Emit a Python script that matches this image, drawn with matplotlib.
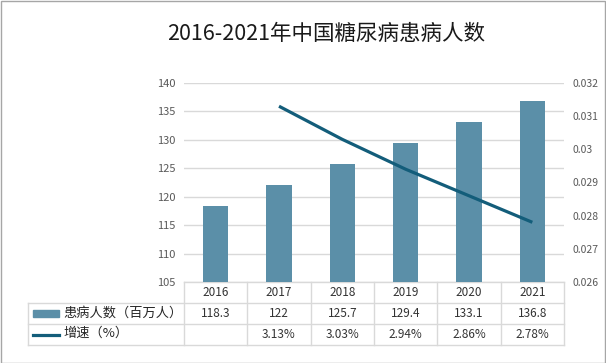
import numpy as np
import matplotlib.pyplot as plt
from matplotlib.patches import Rectangle
from matplotlib.lines import Line2D

plt.rcParams['font.family'] = ['Noto Sans CJK SC', 'DejaVu Sans']

years = ['2016', '2017', '2018', '2019', '2020', '2021']
patients = [118.3, 122, 125.7, 129.4, 133.1, 136.8]
growth = [None, 3.13, 3.03, 2.94, 2.86, 2.78]
title = '2016-2021年中国糖尿病患病人数'
bar_label = '患病人数（百万人）'
line_label = '增速（%）'

bar_color = '#5b8fa8'
line_color = '#135d7a'
grid_color = '#d9d9d9'
tick_color = '#595959'
text_color = '#333333'

W, H = 606, 363
fig = plt.figure(figsize=(W / 100, H / 100), dpi=100)

# axes box in pixels: x 184..564, y 83..282 (from top)
L, R, T, B = 184, 564, 83, 282
ax = fig.add_axes([L / W, 1 - B / H, (R - L) / W, (B - T) / H])
ax2 = ax.twinx()

x = np.arange(len(years))
ax.bar(x, patients, width=0.4, color=bar_color, zorder=3)
ax.set_xlim(-0.5, len(years) - 0.5)
ax.set_ylim(105, 140)
ax.set_yticks(np.arange(105, 141, 5))
ax.yaxis.grid(True, color=grid_color, linewidth=1)
ax.set_axisbelow(True)
ax.set_xticks([])
for s in ax.spines.values():
    s.set_visible(False)
ax.tick_params(axis='y', length=0, pad=6, labelsize=8, labelcolor=tick_color)

gx = [i for i, g in enumerate(growth) if g is not None]
gy = [growth[i] / 100 for i in gx]
ax2.plot(gx, gy, color=line_color, linewidth=2.3, solid_capstyle='butt', zorder=4)
ax2.set_ylim(0.026, 0.032)
ax2.set_yticks([0.026, 0.027, 0.028, 0.029, 0.03, 0.031, 0.032])
ax2.set_yticklabels(['0.026', '0.027', '0.028', '0.029', '0.03', '0.031', '0.032'])
for s in ax2.spines.values():
    s.set_visible(False)
ax2.tick_params(axis='y', length=0, pad=6, labelsize=7.5, labelcolor=tick_color)

# title
fig.text(326 / W, 1 - 34 / H, title, ha='center', va='center', fontsize=15.5,
         color='#1a1a1a')

# data table under the chart
h = B - T
def ay(py):
    return (B - py) / h
def axx(px):
    return (px - L) / (R - L)

tx = ax.get_xaxis_transform()
row_lines = [282, 303, 324, 345]
for i, py in enumerate(row_lines):
    x0 = axx(184) if i == 0 else axx(28)
    ax.add_line(Line2D([x0, 1], [ay(py), ay(py)], transform=ax.transAxes,
                       color=grid_color, linewidth=1, clip_on=False))
ax.add_line(Line2D([axx(28), axx(28)], [ay(303), ay(345)], transform=ax.transAxes,
                   color=grid_color, linewidth=1, clip_on=False))
for i in range(len(years) + 1):
    ax.add_line(Line2D([i - 0.5, i - 0.5], [ay(282), ay(345)], transform=tx,
                       color=grid_color, linewidth=1, clip_on=False))

for i in range(len(years)):
    ax.text(i, ay(292.5), years[i], transform=tx, ha='center', va='center',
            fontsize=8.5, color=text_color)
    ax.text(i, ay(313.5), f'{patients[i]:g}', transform=tx, ha='center', va='center',
            fontsize=8.5, color=text_color)
    if growth[i] is not None:
        ax.text(i, ay(334.5), f'{growth[i]:.2f}%', transform=tx, ha='center',
                va='center', fontsize=8.5, color=text_color)

# legend keys in the label column
ax.add_patch(Rectangle((axx(33), ay(316.5)), axx(59) - axx(33), ay(310) - ay(316.5),
                       transform=ax.transAxes, color=bar_color, clip_on=False))
ax.add_line(Line2D([axx(33), axx(59)], [ay(334.5), ay(334.5)], transform=ax.transAxes,
                   color=line_color, linewidth=2.3, clip_on=False))
ax.text(axx(63), ay(313), bar_label, transform=ax.transAxes, ha='left', va='center',
        fontsize=9.5, color='#262626')
ax.text(axx(63), ay(333), line_label, transform=ax.transAxes, ha='left', va='center',
        fontsize=9.5, color='#262626')

# outer frame
fig.add_artist(Rectangle((0.5 / W, 0.5 / H), (W - 1.5) / W, (H - 1.5) / H,
                         transform=fig.transFigure, fill=False,
                         edgecolor='#a6a6a6', linewidth=1))

fig.savefig('out.png', dpi=100)
